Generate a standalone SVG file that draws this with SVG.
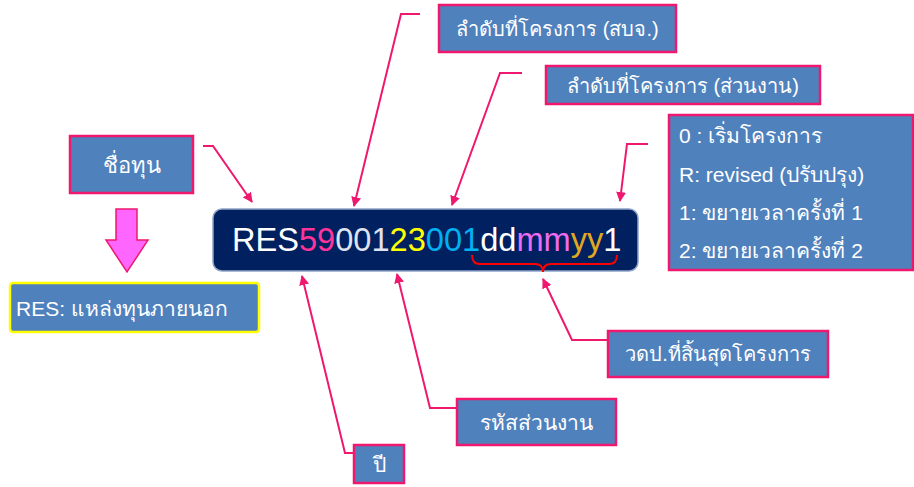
<svg xmlns="http://www.w3.org/2000/svg" width="914" height="487" viewBox="0 0 914 487">
<style>
.box{fill:#4f81bd;stroke:#f0186e;stroke-width:2.5}
.lbl{font-family:"Liberation Sans","Noto Sans",sans-serif;font-size:20px;fill:#ffffff}
.lbl-start{font-family:"Liberation Sans","Noto Sans",sans-serif;font-size:21px;fill:#ffffff}
.conn{fill:none;stroke:#f0186e;stroke-width:2;marker-end:url(#ah)}
</style>
<defs>
<marker id="ah" viewBox="0 0 10 10" refX="9" refY="5" markerWidth="5" markerHeight="5" orient="auto" markerUnits="strokeWidth">
<path d="M0,0 L10,5 L0,10 z" fill="#f0186e"/>
</marker>
</defs>
<rect width="914" height="487" fill="#ffffff"/>

<g id="connectors">
<polyline class="conn" points="203,146 213,146 252,202"/>
<polyline class="conn" points="420,14 401,14 354,206"/>
<polyline class="conn" points="522,73 500,73 452,205"/>
<polyline class="conn" points="648,144 627,144 620,201"/>
<polyline class="conn" points="353,453 345,453 302,276"/>
<polyline class="conn" points="456,408 430,408 397,274"/>
<polyline class="conn" points="607,340 572,340 543,279"/>
</g>

<g id="code">
<rect x="213" y="209" width="425" height="62" rx="9" fill="#002060" stroke="#8fa3c9" stroke-width="1.5"/>
<text x="232" y="251" font-family="Liberation Sans, Noto Sans, sans-serif" font-size="32.6" fill="#ffffff"><tspan>RES</tspan><tspan fill="#ff3399">59</tspan><tspan fill="#dde3f0">001</tspan><tspan fill="#ffff00">23</tspan><tspan fill="#00b0f0">001</tspan><tspan>dd</tspan><tspan fill="#ee6cf0">mm</tspan><tspan fill="#e0a820">yy</tspan><tspan>1</tspan></text>
<path d="M472,255 Q472,264 480,264 L535,264 Q543,264 543,272 Q543,264 551,264 L609,264 Q617,264 617,255" fill="none" stroke="#ff0000" stroke-width="2"/>
</g>

<g id="seq-sbj">
<rect class="box" x="439" y="5" width="237" height="47"/>
<text class="lbl" x="557.5" y="36" text-anchor="middle">ลำดับที่โครงการ (สบจ.)</text>
</g>

<g id="seq-unit">
<rect class="box" x="546" y="66" width="274" height="38"/>
<text class="lbl" x="683" y="93" text-anchor="middle">ลำดับที่โครงการ (ส่วนงาน)</text>
</g>

<g id="status">
<rect class="box" x="669" y="115" width="244" height="155"/>
<text class="lbl-start" x="679" y="143">0 : เริ่มโครงการ</text>
<text class="lbl-start" x="679" y="182">R: revised (ปรับปรุง)</text>
<text class="lbl-start" x="679" y="220">1: ขยายเวลาครั้งที่ 1</text>
<text class="lbl-start" x="679" y="258">2: ขยายเวลาครั้งที่ 2</text>
</g>

<g id="fund-name">
<rect class="box" x="70" y="136" width="123" height="57"/>
<text class="lbl" x="131.5" y="173" text-anchor="middle" style="font-size:22px">ชื่อทุน</text>
</g>

<g id="down-arrow">
<polygon points="116,209 137,209 137,240 148,240 127,272 106,240 116,240" fill="#ff66ff" stroke="#f0186e" stroke-width="1.5"/>
</g>

<g id="res-source">
<rect x="10" y="283" width="249" height="49" rx="3" fill="#4f81bd" stroke="#ffff00" stroke-width="2.5"/>
<text class="lbl" x="16" y="316" style="font-size:21px">RES: แหล่งทุนภายนอก</text>
</g>

<g id="end-date">
<rect class="box" x="608" y="331" width="220" height="46"/>
<text class="lbl" x="718" y="361" text-anchor="middle">วดป.ที่สิ้นสุดโครงการ</text>
</g>

<g id="unit-code">
<rect class="box" x="457" y="399" width="159" height="46"/>
<text class="lbl" x="536.5" y="430" text-anchor="middle" style="font-size:21px">รหัสส่วนงาน</text>
</g>

<g id="year">
<rect class="box" x="354" y="445" width="50" height="38"/>
<text class="lbl" x="379" y="472" text-anchor="middle" style="font-size:21px">ปี</text>
</g>
</svg>
